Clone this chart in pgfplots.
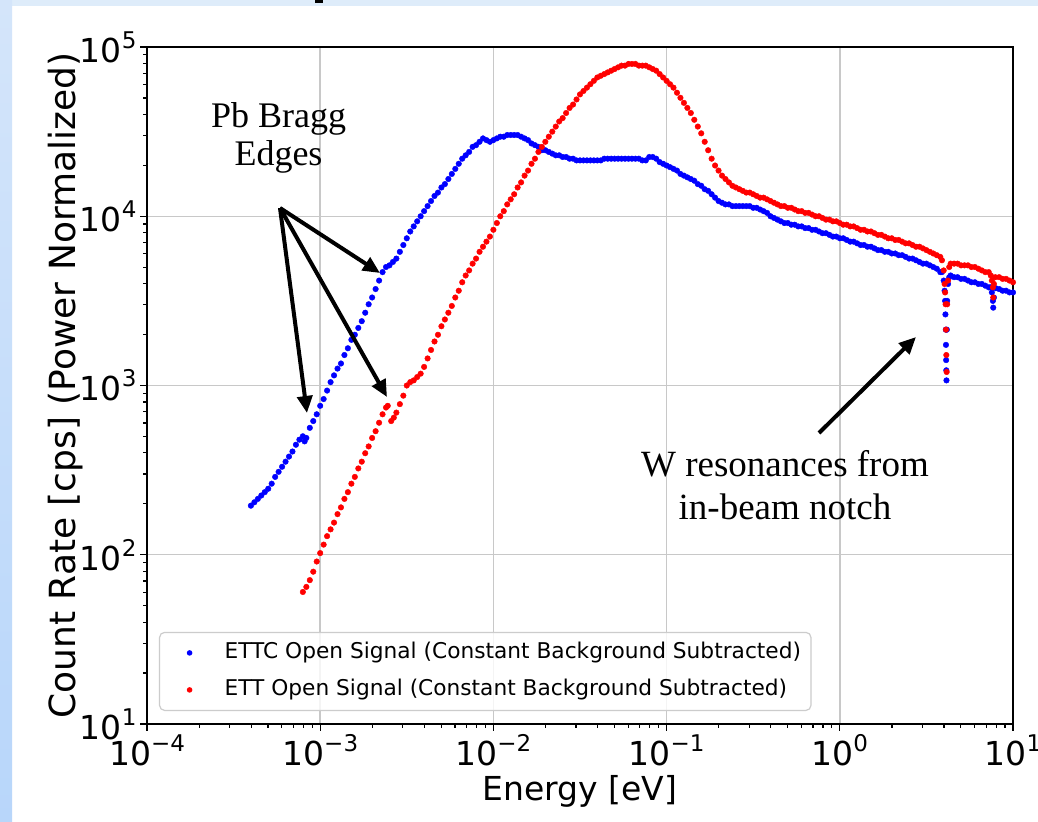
\documentclass[border=0pt]{standalone}
\usepackage{fontspec}
\setmainfont{DejaVu Sans}
\newfontfamily\tnr{Liberation Serif}
\usepackage{pgfplots}
\usepackage{pgfplotstable}
\pgfplotsset{compat=1.18}
\usetikzlibrary{arrows.meta}
\newcommand\tpow[1]{10\raisebox{14bp}{\fontsize{23bp}{23bp}\selectfont #1}}

\pgfplotstableread{
E Y
3.981e-4 195.0
4.169e-4 204.2
4.365e-4 213.8
4.571e-4 223.9
4.786e-4 234.4
5.012e-4 245.5
5.248e-4 263.0
5.495e-4 288.4
5.754e-4 309.0
6.026e-4 331.1
6.310e-4 354.8
6.607e-4 380.2
6.918e-4 407.4
7.244e-4 446.7
7.586e-4 478.6
7.943e-4 501.2
8.128e-4 467.7
8.318e-4 489.8
8.710e-4 562.3
9.120e-4 616.6
9.550e-4 676.1
1.000e-3 758.6
1.047e-3 831.8
1.096e-3 933.3
1.148e-3 1047
1.202e-3 1148
1.259e-3 1259
1.318e-3 1349
1.380e-3 1514
1.445e-3 1660
1.514e-3 1862
1.585e-3 1995
1.660e-3 2188
1.738e-3 2399
1.820e-3 2692
1.905e-3 3020
1.995e-3 3311
2.089e-3 3715
2.188e-3 4169
2.291e-3 4677
2.399e-3 5012
2.512e-3 5129
2.630e-3 5370
2.754e-3 5623
2.884e-3 6166
3.020e-3 6761
3.162e-3 7413
3.311e-3 8128
3.467e-3 8710
3.631e-3 9333
3.802e-3 10000
3.981e-3 10720
4.169e-3 11480
4.365e-3 12300
4.571e-3 13180
4.786e-3 13800
5.012e-3 14790
5.248e-3 15490
5.495e-3 16600
5.754e-3 17780
6.026e-3 19050
6.310e-3 20420
6.607e-3 21880
6.918e-3 22910
7.244e-3 23990
7.586e-3 25700
7.943e-3 26300
8.318e-3 27540
8.710e-3 28840
9.120e-3 28180
9.550e-3 27540
1.000e-2 28180
1.047e-2 28840
1.096e-2 29510
1.148e-2 29510
1.202e-2 30200
1.259e-2 30200
1.318e-2 30200
1.380e-2 30200
1.445e-2 29510
1.514e-2 28840
1.585e-2 28180
1.660e-2 26920
1.738e-2 26300
1.820e-2 25700
1.905e-2 24550
1.995e-2 24550
2.089e-2 23990
2.188e-2 23440
2.291e-2 22910
2.399e-2 22910
2.512e-2 22390
2.630e-2 22390
2.754e-2 21880
2.884e-2 21880
3.020e-2 21380
3.162e-2 21380
3.311e-2 21380
3.467e-2 21380
3.631e-2 21380
3.802e-2 21380
3.981e-2 21380
4.169e-2 21380
4.365e-2 21880
4.571e-2 21880
4.786e-2 21880
5.012e-2 21880
5.248e-2 21880
5.495e-2 21880
5.754e-2 21880
6.026e-2 21880
6.310e-2 21880
6.607e-2 21880
6.918e-2 21880
7.244e-2 21380
7.586e-2 21380
7.943e-2 22390
8.318e-2 22390
8.710e-2 21880
9.120e-2 20890
9.550e-2 20420
0.1000 19950
0.1047 19500
0.1096 19050
0.1148 18620
0.1202 17780
0.1259 17380
0.1318 16980
0.1380 16600
0.1445 16220
0.1514 15490
0.1585 15140
0.1660 14450
0.1738 14130
0.1820 13490
0.1905 12880
0.1995 12300
0.2089 12020
0.2188 11750
0.2291 11750
0.2399 11480
0.2512 11480
0.2630 11480
0.2754 11480
0.2884 11480
0.3020 11480
0.3162 11220
0.3311 11220
0.3467 10960
0.3631 10720
0.3802 10470
0.3981 10000
0.4169 9772
0.4365 9550
0.4571 9333
0.4786 9120
0.5012 9120
0.5248 8913
0.5495 8913
0.5754 8710
0.6026 8710
0.6310 8511
0.6607 8511
0.6918 8318
0.7244 8318
0.7586 8128
0.7943 7943
0.8318 7943
0.8710 7762
0.9120 7586
0.9550 7586
1.000 7413
1.047 7413
1.096 7244
1.148 7079
1.202 7079
1.259 6918
1.318 6761
1.380 6761
1.445 6607
1.514 6607
1.585 6457
1.660 6310
1.738 6310
1.820 6166
1.905 6166
1.995 6026
2.089 6026
2.188 5888
2.291 5888
2.399 5754
2.512 5623
2.630 5623
2.754 5495
2.884 5370
3.020 5248
3.162 5248
3.311 5129
3.467 5012
3.631 4898
3.802 4677
3.890 4677
3.981 4169
4.027 3631
4.055 3162
4.074 2630
4.093 2138
4.102 1738
4.111 1413
4.121 1230
4.130 1072
4.150 2138
4.169 3162
4.217 3981
4.285 4365
4.365 4467
4.571 4365
4.786 4365
5.012 4266
5.248 4266
5.495 4169
5.754 4074
6.026 4074
6.310 3981
6.607 3981
6.918 3890
7.244 3802
7.413 3802
7.551 3548
7.656 3162
7.691 2884
7.762 3311
7.943 3758
8.318 3715
8.710 3631
9.120 3631
9.550 3548
10.00 3548
}\blueT

\pgfplotstableread{
E Y
7.943e-4 60.26
8.318e-4 64.57
8.710e-4 70.79
9.120e-4 79.43
9.550e-4 91.20
1.000e-3 102.3
1.047e-3 114.8
1.096e-3 128.8
1.148e-3 141.3
1.202e-3 154.9
1.259e-3 173.8
1.318e-3 190.5
1.380e-3 213.8
1.445e-3 234.4
1.514e-3 263.0
1.585e-3 288.4
1.660e-3 323.6
1.738e-3 354.8
1.820e-3 398.1
1.905e-3 436.5
1.995e-3 489.8
2.089e-3 537.0
2.188e-3 602.6
2.291e-3 676.1
2.399e-3 741.3
2.455e-3 758.6
2.570e-3 616.6
2.661e-3 645.7
2.754e-3 691.8
2.884e-3 776.2
3.020e-3 871.0
3.162e-3 1000
3.311e-3 1047
3.467e-3 1072
3.631e-3 1122
3.802e-3 1175
3.981e-3 1288
4.169e-3 1445
4.365e-3 1622
4.571e-3 1820
4.786e-3 1995
5.012e-3 2239
5.248e-3 2455
5.495e-3 2692
5.754e-3 2951
6.026e-3 3311
6.310e-3 3631
6.607e-3 4074
6.918e-3 4467
7.244e-3 4786
7.586e-3 5248
7.943e-3 5623
8.318e-3 6166
8.710e-3 6607
9.120e-3 7079
9.550e-3 7586
1.000e-2 8318
1.047e-2 9120
1.096e-2 10000
1.148e-2 10720
1.202e-2 11750
1.259e-2 12590
1.318e-2 13490
1.380e-2 14790
1.445e-2 15850
1.514e-2 17380
1.585e-2 18620
1.660e-2 20420
1.738e-2 21880
1.820e-2 23990
1.905e-2 25700
1.995e-2 27540
2.089e-2 29510
2.188e-2 31620
2.291e-2 33880
2.399e-2 36310
2.512e-2 38020
2.630e-2 40740
2.754e-2 43650
2.884e-2 45710
3.020e-2 48980
3.162e-2 52480
3.311e-2 54950
3.467e-2 57540
3.631e-2 60260
3.802e-2 63100
3.981e-2 66070
4.169e-2 67610
4.365e-2 69180
4.571e-2 70790
4.786e-2 72440
5.012e-2 74130
5.248e-2 75860
5.495e-2 77620
5.754e-2 77620
6.026e-2 79430
6.310e-2 79430
6.607e-2 79430
6.918e-2 77620
7.244e-2 77620
7.586e-2 77620
7.943e-2 75860
8.318e-2 74130
8.710e-2 72440
9.120e-2 69180
9.550e-2 66070
0.1000 63100
0.1047 60260
0.1096 57540
0.1148 53700
0.1202 50120
0.1259 46770
0.1318 43650
0.1380 40740
0.1445 37150
0.1514 33880
0.1585 30900
0.1660 27540
0.1738 24550
0.1820 21880
0.1905 19950
0.1995 18620
0.2089 17380
0.2188 16600
0.2291 15850
0.2399 15140
0.2512 14790
0.2630 14450
0.2754 14130
0.2884 13800
0.3020 13800
0.3162 13490
0.3311 13180
0.3467 12880
0.3631 12880
0.3802 12590
0.3981 12300
0.4169 12020
0.4365 11750
0.4571 11480
0.4786 11480
0.5012 11220
0.5248 11220
0.5495 10960
0.5754 10720
0.6026 10720
0.6310 10470
0.6607 10470
0.6918 10230
0.7244 10000
0.7586 10000
0.7943 9772
0.8318 9550
0.8710 9550
0.9120 9333
0.9550 9333
1.000 9120
1.047 8913
1.096 8913
1.148 8710
1.202 8710
1.259 8511
1.318 8318
1.380 8318
1.445 8128
1.514 8128
1.585 7943
1.660 7762
1.738 7762
1.820 7586
1.905 7413
1.995 7413
2.089 7244
2.188 7244
2.291 7079
2.399 6918
2.512 6918
2.630 6761
2.754 6607
2.884 6607
3.020 6457
3.162 6310
3.311 6166
3.467 6026
3.631 5888
3.802 5754
3.890 5495
3.981 4786
4.027 3981
4.055 3548
4.083 3020
4.102 2138
4.121 1514
4.140 1202
4.169 3020
4.217 4169
4.285 5012
4.365 5248
4.571 5248
4.786 5248
5.012 5129
5.248 5129
5.495 5129
5.754 5012
6.026 5012
6.310 4898
6.607 4786
6.918 4677
7.244 4677
7.447 4467
7.551 4169
7.656 3802
7.691 3311
7.762 3981
7.907 4365
8.318 4365
8.710 4266
9.120 4266
9.550 4169
10.00 4074
}\redT

\definecolor{gridgray}{RGB}{200,200,200}
\definecolor{legedge}{RGB}{204,204,204}
\definecolor{bandtop}{RGB}{222,236,250}
\definecolor{bandA}{RGB}{212,229,250}
\definecolor{bandB}{RGB}{184,214,250}

\begin{document}
\begin{tikzpicture}
\useasboundingbox (0bp,0bp) rectangle (1038bp,-822bp);
\begin{scope}[x=1bp,y=-1bp]
\fill[white] (0,0) rectangle (1038,822);
\fill[bandtop] (0,0) rectangle (1038,6);
\shade[top color=bandA, bottom color=bandB] (0,0) rectangle (12,822);
\fill[black] (315,0) rectangle (323,3);
\end{scope}

\begin{axis}[
  at={(147bp,-724bp)}, anchor=south west,
  scale only axis, width=866bp, height=677bp,
  xmode=log, ymode=log,
  xmin=1e-4, xmax=10, ymin=10, ymax=1e5,
  xtick={1e-4,1e-3,1e-2,1e-1,1,10},
  xticklabels={\tpow{−4},\tpow{−3},\tpow{−2},\tpow{−1},\tpow{0},\tpow{1}},
  ytick={10,100,1000,10000,100000},
  yticklabels={\tpow{1},\tpow{2},\tpow{3},\tpow{4},\tpow{5}},
  tick label style={font=\fontsize{33bp}{40bp}\selectfont},
  tickpos=left, tick align=outside,
  major tick length=7bp, minor tick length=4bp,
  tick style={black, line width=1.2bp},
  grid=major, major grid style={line width=1.4bp, draw=gridgray},
  axis line style={line width=1.6bp, black},
  xlabel={Energy [eV]},
  ylabel={Count Rate [cps] (Power Normalized)},
  xlabel style={font=\fontsize{33bp}{40bp}\selectfont, at={(axis description cs:0.5,-0.11226)}, anchor=base},
  ylabel style={font=\fontsize{36bp}{40bp}\selectfont, at={(axis description cs:-0.0820,0.5)}, anchor=base},
  legend cell align=left,
  legend style={at={(axis description cs:0.01386,0.0192)}, anchor=south west,
    draw=legedge, line width=1.2bp, rounded corners=5bp, fill=white, fill opacity=0.8, text opacity=1,
    inner xsep=8bp, inner ysep=8bp, font=\fontsize{21.7bp}{26bp}\selectfont,
    row sep=12bp, column sep=21bp,
    nodes={inner sep=2bp, text height=16bp, text depth=5bp}},
]
\addplot[only marks, mark=*, mark size=2.8bp, color=blue, mark options={draw=none, fill=blue},
  legend image code/.code={\path[draw=none,fill=none] (0bp,-3bp) rectangle (34bp,3bp); \path[draw=none,fill=blue,fill opacity=1] (22bp,0bp) circle (2.8bp);}] table {\blueT};
\addlegendentry{ETTC Open Signal (Constant Background Subtracted)}
\addplot[only marks, mark=*, mark size=2.8bp, color=red, mark options={draw=none, fill=red},
  legend image code/.code={\path[draw=none,fill=none] (0bp,-3bp) rectangle (34bp,3bp); \path[draw=none,fill=red,fill opacity=1] (22bp,0bp) circle (2.8bp);}] table {\redT};
\addlegendentry{ETT Open Signal (Constant Background Subtracted)}
\end{axis}

\begin{scope}[x=1bp,y=-1bp]
\draw[line width=4bp, -{Triangle[length=17bp,width=15bp]}] (280,208) -- (380,273);
\draw[line width=4bp, -{Triangle[length=17bp,width=15bp]}] (280,208) -- (307,413);
\draw[line width=4bp, -{Triangle[length=17bp,width=15bp]}] (280,208) -- (387,397);
\draw[line width=4bp, -{Triangle[length=17bp,width=15bp]}] (819,433) -- (916,337);
\node[anchor=base, font=\tnr\fontsize{36bp}{40bp}\selectfont, inner sep=0] at (278.5,127) {Pb Bragg};
\node[anchor=base, font=\tnr\fontsize{36bp}{40bp}\selectfont, inner sep=0] at (278.5,165) {Edges};
\node[anchor=base, font=\tnr\fontsize{37bp}{40bp}\selectfont, inner sep=0] at (785,476) {W resonances from};
\node[anchor=base, font=\tnr\fontsize{37bp}{40bp}\selectfont, inner sep=0] at (785,519) {in-beam notch};
\end{scope}
\end{tikzpicture}
\end{document}
